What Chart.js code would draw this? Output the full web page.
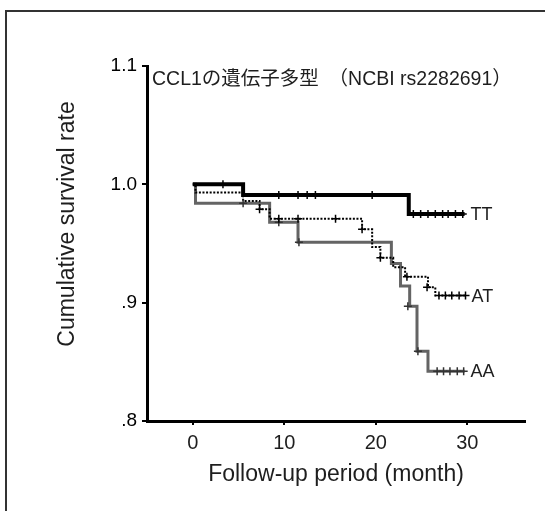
<!DOCTYPE html>
<html>
<head>
<meta charset="utf-8">
<script src="https://cdn.jsdelivr.net/npm/chart.js@4.4.1/dist/chart.umd.min.js"></script>
<style>
  body { margin: 0; background: #fff; }
  #wrap { position: relative; width: 545px; height: 511px; overflow: hidden; }
  #frame { position: absolute; left: 5px; top: 10px; width: 600px; height: 600px;
           border-top: 2px solid #333; border-left: 2px solid #333; }
  #chart { position: absolute; left: 0; top: 0; }
</style>
</head>
<body>
<div id="wrap">
  <div id="frame"></div>
  <canvas id="chart" width="545" height="511"></canvas>
</div>
<script>
// Kaplan-Meier steps (month, cumulative survival)
const ttTime = [0, 5.5, 23.6, 29.7];
const ttSurv = [1.0, 0.991, 0.975, 0.975];
const atTime = [0, 0.3, 5.5, 7.3, 8.4, 18.5, 19.6, 20.5, 21.9, 23.2, 25.7, 26.5, 29.8];
const atSurv = [1.0, 0.993, 0.986, 0.979, 0.971, 0.962, 0.947, 0.938, 0.930, 0.922, 0.913, 0.906, 0.906];
const aaTime = [0, 0.3, 8.4, 11.5, 21.7, 22.7, 23.7, 24.5, 25.7, 29.7];
const aaSurv = [1.0, 0.984, 0.968, 0.951, 0.933, 0.914, 0.897, 0.859, 0.842, 0.842];

// censored cases (+ marks)
const ttCensT = [3.3, 9.4, 11.5, 12.5, 13.4, 19.6, 24.1, 24.9, 25.7, 26.5, 27.3, 27.9, 28.7, 29.5];
const ttCensS = [1.0, 0.991, 0.991, 0.991, 0.991, 0.991, 0.975, 0.975, 0.975, 0.975, 0.975, 0.975, 0.975, 0.975];
const atCensT = [7.3, 9.4, 11.5, 15.6, 18.5, 20.5, 23.4, 25.6, 26.9, 27.6, 28.3, 29.1, 29.8];
const atCensS = [0.979, 0.971, 0.971, 0.971, 0.962, 0.938, 0.922, 0.913, 0.906, 0.906, 0.906, 0.906, 0.906];
const aaCensT = [5.5, 9.4, 11.6, 23.5, 24.6, 26.7, 27.4, 28.1, 28.9, 29.6];
const aaCensS = [0.984, 0.968, 0.951, 0.897, 0.859, 0.842, 0.842, 0.842, 0.842, 0.842];

const groupLabels = ['TT', 'AT', 'AA'];
const xTicks = [0, 10, 20, 30];
const yTicks = [0.8, 0.9, 1.0, 1.1];
const yTickLabels = ['.8', '.9', '1.0', '1.1'];
const headerText = 'CCL1の遺伝子多型　（NCBI rs2282691）';
const xTitle = 'Follow-up period (month)';
const yTitle = 'Cumulative survival rate';

const pts = (xs, ys) => xs.map((x, i) => ({ x: x, y: ys[i] }));
const FONT = '"Liberation Sans", Arial, "Noto Sans CJK JP", sans-serif';
const GRAY = '#646464';

const textPlugin = {
    id: 'texts',
    afterDraw(chart) {
        const ctx = chart.ctx;
        const xs = chart.scales.x;
        const ys = chart.scales.y;
        ctx.save();
        ctx.fillStyle = '#1e1e1e';
        ctx.textBaseline = 'middle';

        ctx.font = '19.5px ' + FONT;
        ctx.textAlign = 'left';
        ctx.fillText(headerText, chart.chartArea.left + 5, 80);

        ctx.font = '23px ' + FONT;
        ctx.textAlign = 'center';
        ctx.fillText(xTitle, 336, 475);
        ctx.save();
        ctx.translate(68, 224);
        ctx.rotate(-Math.PI / 2);
        ctx.fillText(yTitle, 0, 0);
        ctx.restore();

        // group names at the end of each curve
        ctx.font = '18px ' + FONT;
        ctx.textAlign = 'left';
        [0, 1, 2].forEach((i) => {
            const d = chart.data.datasets[i].data;
            const last = d[d.length - 1];
            ctx.fillText(groupLabels[i], xs.getPixelForValue(last.x) + 6, ys.getPixelForValue(last.y) + 1);
        });
        ctx.restore();
    },
};

new Chart(document.getElementById('chart').getContext('2d'), {
    type: 'line',
    data: {
        datasets: [
            { label: 'TT', data: pts(ttTime, ttSurv), stepped: true, borderColor: '#000', borderWidth: 4, pointRadius: 0, order: 1 },
            { label: 'AT', data: pts(atTime, atSurv), stepped: true, borderColor: '#000', borderWidth: 2, borderDash: [2, 1.6], pointRadius: 0, order: 2 },
            { label: 'AA', data: pts(aaTime, aaSurv), stepped: true, borderColor: GRAY, borderWidth: 3, pointRadius: 0, order: 3 },
            { data: pts(ttCensT, ttCensS), showLine: false, pointStyle: 'cross', pointRadius: 4, pointBorderWidth: 1.5, pointBorderColor: '#000', order: 0 },
            { data: pts(atCensT, atCensS), showLine: false, pointStyle: 'cross', pointRadius: 4, pointBorderWidth: 1.5, pointBorderColor: '#000', order: 0 },
            { data: pts(aaCensT, aaCensS), showLine: false, pointStyle: 'cross', pointRadius: 4, pointBorderWidth: 1.5, pointBorderColor: '#333', order: 0 },
        ],
    },
    options: {
        responsive: false,
        animation: false,
        devicePixelRatio: 1,
        layout: { padding: { left: 0, top: 66, right: 20, bottom: 0 } },
        plugins: { legend: { display: false }, tooltip: { enabled: false }, title: { display: false } },
        scales: {
            x: {
                type: 'linear',
                min: -5,
                max: 36.3,
                afterFit: (s) => { s.height = 90; },
                afterBuildTicks: (s) => { s.ticks = xTicks.map((v) => ({ value: v })); },
                ticks: { color: '#1e1e1e', font: { family: FONT, size: 20 }, padding: 6 },
                grid: { drawOnChartArea: false, tickLength: 4, color: '#000', lineWidth: 2 },
                border: { color: '#000', width: 3 },
            },
            y: {
                type: 'linear',
                min: 0.8,
                max: 1.1,
                afterFit: (s) => { s.width = 147; },
                afterBuildTicks: (s) => { s.ticks = yTicks.map((v) => ({ value: v })); },
                ticks: {
                    color: '#000',
                    font: { family: FONT, size: 19 },
                    padding: 5,
                    callback: (v, i) => yTickLabels[i],
                },
                grid: { drawOnChartArea: false, tickLength: 5, color: '#000', lineWidth: 2 },
                border: { color: '#000', width: 3 },
            },
        },
    },
    plugins: [textPlugin],
});
</script>
</body>
</html>
